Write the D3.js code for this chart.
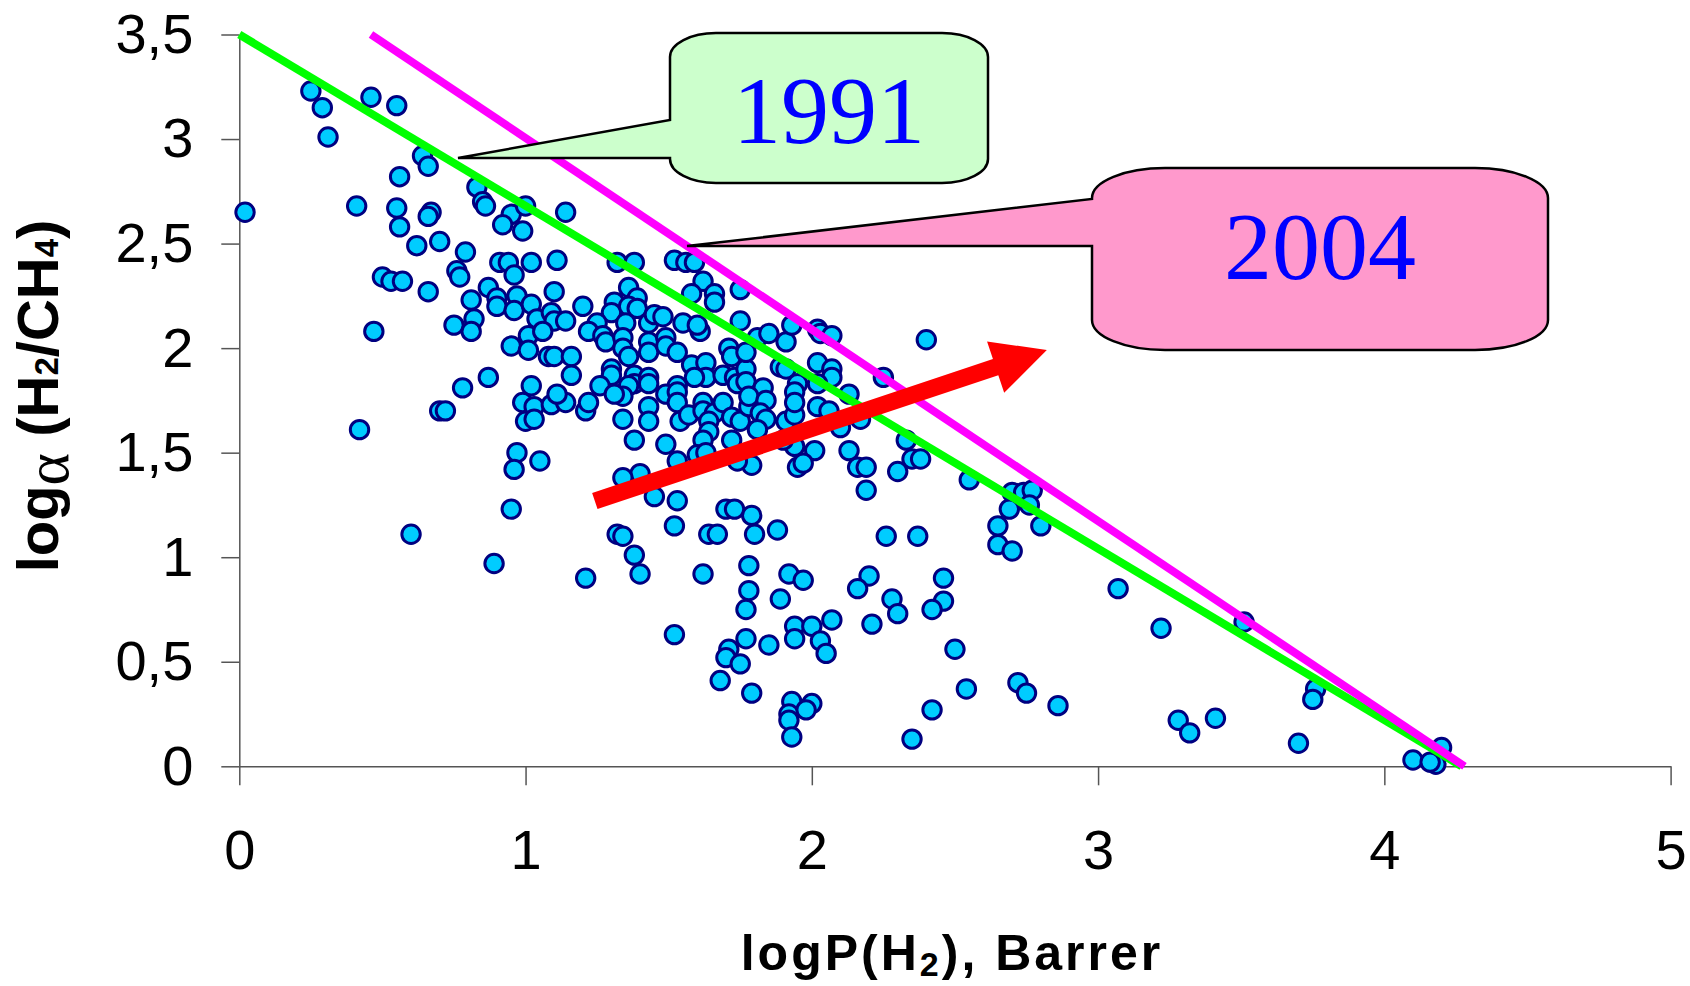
<!DOCTYPE html>
<html>
<head>
<meta charset="utf-8">
<script src="https://cdn.jsdelivr.net/npm/d3@7"></script>
<style>
    body { margin: 0; background: #ffffff; }
    svg { display: block; }
    .tick text { font-family: "Liberation Sans", Arial, sans-serif; font-size: 56px; fill: #000; }
    .tick line, .domain { stroke: #555; stroke-width: 1.5; }
</style>
</head>
<body>
<div id="chart"></div>
<script>
// [logP(H2), log alpha(H2/CH4)] for each membrane
const membranes = [
    [0.25,3.23],[0.29,3.15],[0.31,3.01],[0.46,3.20],[0.55,3.16],[0.64,2.92],[0.66,2.87],[0.56,2.82],[0.02,2.65],[0.41,2.68],
    [0.55,2.67],[0.56,2.58],[0.67,2.65],[0.66,2.63],[0.62,2.49],[0.70,2.51],[0.83,2.77],[0.85,2.70],[0.86,2.68],[0.95,2.64],
    [0.92,2.59],[0.99,2.56],[1.00,2.68],[1.14,2.65],[0.79,2.46],[0.76,2.37],[0.77,2.34],[0.50,2.34],[0.53,2.32],[0.57,2.32],
    [0.66,2.27],[0.47,2.08],[0.91,2.41],[0.94,2.41],[0.96,2.35],[1.02,2.41],[1.11,2.42],[0.81,2.23],[0.87,2.29],[0.90,2.24],
    [0.90,2.20],[0.97,2.25],[0.96,2.18],[0.82,2.14],[0.75,2.11],[0.81,2.08],[1.02,2.21],[1.04,2.14],[1.09,2.17],[1.10,2.13],
    [1.14,2.13],[1.10,2.27],[1.20,2.20],[1.01,2.06],[1.06,2.08],[0.95,2.01],[1.01,1.99],[1.08,1.96],[1.10,1.96],[1.16,1.96],
    [1.16,1.87],[0.87,1.86],[0.78,1.81],[1.02,1.82],[1.32,2.41],[1.38,2.41],[1.52,2.42],[1.56,2.41],[1.59,2.41],[1.62,2.32],
    [1.58,2.26],[1.66,2.26],[1.66,2.22],[1.75,2.28],[1.75,2.13],[1.36,2.29],[1.39,2.24],[1.31,2.22],[1.30,2.17],[1.36,2.20],
    [1.39,2.19],[1.25,2.12],[1.22,2.08],[1.27,2.06],[1.28,2.03],[1.35,2.12],[1.34,2.05],[1.34,2.00],[1.36,1.96],[1.43,2.12],
    [1.45,2.16],[1.48,2.15],[1.43,2.03],[1.43,1.98],[1.49,2.05],[1.49,2.01],[1.53,1.98],[1.55,2.12],[1.61,2.08],[1.60,2.11],
    [1.58,1.92],[1.63,1.93],[1.63,1.86],[1.59,1.86],[1.71,2.00],[1.72,1.96],[1.69,1.87],[1.73,1.86],[1.74,1.83],[1.77,1.90],
    [1.77,1.98],[1.30,1.90],[1.30,1.87],[1.26,1.82],[1.38,1.87],[1.38,1.83],[1.43,1.86],[1.43,1.83],[1.36,1.82],[1.53,1.82],
    [1.77,1.84],[1.81,2.05],[1.85,2.07],[1.91,2.03],[1.93,2.11],[2.02,2.09],[2.03,2.07],[2.07,2.06],[2.25,1.86],[2.40,2.04],
    [1.89,1.91],[1.91,1.90],[2.02,1.93],[2.07,1.90],[2.07,1.86],[2.02,1.83],[1.95,1.83],[1.83,1.81],[1.34,1.77],[1.49,1.78],
    [1.53,1.79],[1.94,1.79],[2.13,1.78],[0.99,1.74],[1.03,1.72],[1.00,1.65],[1.03,1.66],[1.09,1.73],[1.14,1.74],[1.11,1.78],
    [1.21,1.70],[1.22,1.74],[1.31,1.78],[1.34,1.66],[1.43,1.72],[1.43,1.65],[1.38,1.56],[1.53,1.74],[1.54,1.65],[1.57,1.68],
    [1.49,1.54],[1.62,1.74],[1.62,1.70],[1.66,1.69],[1.64,1.65],[1.64,1.60],[1.62,1.56],[1.69,1.74],[1.72,1.67],[1.75,1.65],
    [1.72,1.56],[1.78,1.72],[1.78,1.77],[1.84,1.75],[1.82,1.69],[1.84,1.66],[1.81,1.61],[1.91,1.65],[1.94,1.68],[1.94,1.74],
    [2.02,1.72],[2.06,1.70],[2.10,1.62],[2.17,1.66],[2.13,1.51],[2.16,1.43],[2.19,1.43],[2.19,1.32],[2.30,1.41],[2.33,1.56],
    [2.35,1.47],[2.38,1.47],[2.55,1.37],[1.94,1.53],[2.01,1.51],[1.95,1.43],[1.97,1.45],[1.90,1.56],[1.79,1.44],[1.74,1.46],
    [1.60,1.49],[1.63,1.50],[1.53,1.46],[1.40,1.40],[1.34,1.38],[1.45,1.29],[1.53,1.27],[0.97,1.50],[0.96,1.42],[1.05,1.46],
    [0.95,1.23],[0.89,0.97],[1.21,0.90],[1.32,1.11],[1.34,1.10],[1.38,1.01],[1.40,0.92],[1.52,1.15],[1.62,0.92],[1.64,1.11],
    [1.67,1.11],[1.70,1.23],[1.73,1.23],[1.79,1.20],[1.80,1.11],[1.88,1.13],[1.78,0.96],[1.78,0.84],[1.77,0.75],[1.92,0.92],
    [1.97,0.89],[1.89,0.80],[1.52,0.63],[1.68,0.41],[1.71,0.56],[1.70,0.52],[1.75,0.49],[1.77,0.61],[1.85,0.58],[1.94,0.67],
    [1.94,0.61],[2.00,0.67],[2.03,0.60],[2.05,0.54],[2.07,0.70],[2.21,0.68],[2.20,0.91],[2.16,0.85],[2.28,0.80],[2.30,0.73],
    [2.46,0.90],[2.46,0.79],[2.42,0.75],[2.50,0.56],[2.26,1.10],[2.37,1.10],[2.65,1.15],[2.65,1.06],[2.54,0.37],[2.42,0.27],
    [2.35,0.13],[2.72,0.40],[2.75,0.35],[2.86,0.29],[2.70,1.31],[2.74,1.31],[2.77,1.32],[2.76,1.25],[2.69,1.23],[2.70,1.03],
    [2.80,1.15],[3.07,0.85],[3.22,0.66],[3.51,0.69],[3.28,0.22],[3.32,0.16],[3.41,0.23],[3.76,0.37],[3.75,0.32],[3.70,0.11],
    [4.10,0.03],[4.20,0.09],[4.18,0.01],[4.16,0.02],[0.70,1.70],[0.72,1.70],[0.42,1.61],[0.60,1.11],[1.79,0.35],[1.93,0.31],
    [1.92,0.25],[1.92,0.22],[2.00,0.30],[1.98,0.27],[1.93,0.14]
];

const xTicks = [0, 1, 2, 3, 4, 5];
const yTicks = [0, 0.5, 1, 1.5, 2, 2.5, 3, 3.5];

// upper bounds (1991 and 2004), end points in data units
const bound1991 = [[0, 3.5], [4.27, 0]];
const bound2004 = [[0.46, 3.5], [4.28, 0]];

// progress arrow, tail -> tip
const trendArrow = [[1.242, 1.269], [2.821, 1.991]];

const calloutLabels = ["1991", "2004"];
const calloutTips = [[0.764, 2.909], [1.564, 2.488]];

const margin = {top: 34.5, right: 19.4, bottom: 219.7, left: 239.3};
const width = 1690 - margin.left - margin.right;
const height = 986 - margin.top - margin.bottom;

let root = d3.select("#chart")
    .append("svg")
    .attr("width", 1690)
    .attr("height", 986);

let svg = root.append("g")
    .attr("transform", `translate(${margin.left}, ${margin.top})`);

let x = d3.scaleLinear().domain([0, 5]).range([0, width]);
let y = d3.scaleLinear().domain([0, 3.5]).range([height, 0]);

const commaFormat = d => String(d).replace(".", ",");

svg.append("g")
    .attr("transform", `translate(0, ${height})`)
    .call(d3.axisBottom(x).tickValues(xTicks).tickSize(19).tickSizeOuter(0).tickPadding(44).tickFormat(commaFormat));

svg.append("g")
    .call(d3.axisLeft(y).tickValues(yTicks).tickSize(18).tickSizeOuter(0).tickPadding(28).tickFormat(commaFormat));

svg.append("g")
    .selectAll("circle")
    .data(membranes)
    .join("circle")
    .attr("cx", d => x(d[0]))
    .attr("cy", d => y(d[1]))
    .attr("r", 9.2)
    .attr("fill", "#00ccff")
    .attr("stroke", "#000080")
    .attr("stroke-width", 3);

let line = d3.line().x(d => x(d[0])).y(d => y(d[1]));

svg.append("path")
    .attr("d", line(bound1991))
    .attr("fill", "none")
    .attr("stroke", "#00ff00")
    .attr("stroke-width", 8);

svg.append("path")
    .attr("d", line(bound2004))
    .attr("fill", "none")
    .attr("stroke", "#ff00ff")
    .attr("stroke-width", 8);

// block arrow built around the tail->tip segment
function arrowPoints(tail, tip, shaftHalf, headLen, headHalf) {
    let dx = tip[0] - tail[0], dy = tip[1] - tail[1];
    let len = Math.hypot(dx, dy);
    let ux = dx / len, uy = dy / len;
    let nx = -uy, ny = ux;
    let bx = tip[0] - ux * headLen, by = tip[1] - uy * headLen;
    return [
        [tail[0] + nx * shaftHalf, tail[1] + ny * shaftHalf],
        [bx + nx * shaftHalf, by + ny * shaftHalf],
        [bx + nx * headHalf, by + ny * headHalf],
        tip,
        [bx - nx * headHalf, by - ny * headHalf],
        [bx - nx * shaftHalf, by - ny * shaftHalf],
        [tail[0] - nx * shaftHalf, tail[1] - ny * shaftHalf]
    ];
}

let arrowTail = [x(trendArrow[0][0]), y(trendArrow[0][1])];
let arrowTip = [x(trendArrow[1][0]), y(trendArrow[1][1])];

svg.append("polygon")
    .attr("points", arrowPoints(arrowTail, arrowTip, 8.5, 54, 27).map(p => p.join(",")).join(" "))
    .attr("fill", "#ff0000");

// rounded callout boxes with a wedge pointing left to the tip
function calloutPath(b, tip, wedgeTop) {
    return `M${b.x0 + b.rx},${b.y0} H${b.x1 - b.rx} A${b.rx},${b.ry} 0 0 1 ${b.x1},${b.y0 + b.ry} ` +
        `V${b.y1 - b.ry} A${b.rx},${b.ry} 0 0 1 ${b.x1 - b.rx},${b.y1} H${b.x0 + b.rx} ` +
        `A${b.rx},${b.ry} 0 0 1 ${b.x0},${b.y1 - b.ry} V${tip[1]} L${tip[0]},${tip[1]} L${b.x0},${wedgeTop} ` +
        `V${b.y0 + b.ry} A${b.rx},${b.ry} 0 0 1 ${b.x0 + b.rx},${b.y0} Z`;
}

const boxes = [
    {x0: 670, x1: 988, y0: 33, y1: 183, rx: 46, ry: 24, wedgeTop: 120, fill: "#ccffcc", textY: 143},
    {x0: 1092, x1: 1548, y0: 168, y1: 350, rx: 73, ry: 30, wedgeTop: 199, fill: "#ff99cc", textY: 279}
];

boxes.forEach((b, i) => {
    let tip = [margin.left + x(calloutTips[i][0]), margin.top + y(calloutTips[i][1])];
    root.append("path")
        .attr("d", calloutPath(b, tip, b.wedgeTop))
        .attr("fill", b.fill)
        .attr("stroke", "#000")
        .attr("stroke-width", 2.5)
        .attr("stroke-linejoin", "miter");
    root.append("text")
        .attr("x", (b.x0 + b.x1) / 2)
        .attr("y", b.textY)
        .attr("text-anchor", "middle")
        .style("font-family", "'Liberation Serif', 'Times New Roman', serif")
        .style("font-size", "96px")
        .attr("fill", "#0000ff")
        .text(calloutLabels[i]);
});

let yTitle = root.append("text")
    .attr("transform", "translate(58, 396) rotate(-90)")
    .attr("text-anchor", "middle")
    .style("font-family", "'Liberation Sans', Arial, sans-serif")
    .style("font-weight", "bold")
    .style("font-size", "58px");
yTitle.append("tspan").text("log");
yTitle.append("tspan").text("α").attr("dy", 10)
    .style("font-family", "'Liberation Serif', serif").style("font-weight", "normal").style("font-size", "62px");
yTitle.append("tspan").text(" (H").attr("dy", -10);
yTitle.append("tspan").text("2").style("font-size", "33px");
yTitle.append("tspan").text("/CH");
yTitle.append("tspan").text("4").style("font-size", "33px");
yTitle.append("tspan").text(")");

let xTitle = root.append("text")
    .attr("x", 952)
    .attr("y", 970)
    .attr("text-anchor", "middle")
    .style("font-family", "'Liberation Sans', Arial, sans-serif")
    .style("font-weight", "bold")
    .style("font-size", "50px")
    .style("letter-spacing", "3px");
xTitle.append("tspan").text("logP(H");
xTitle.append("tspan").text("2").attr("dy", 6).style("font-size", "34px");
xTitle.append("tspan").text("), Barrer").attr("dy", -6);
</script>
</body>
</html>
